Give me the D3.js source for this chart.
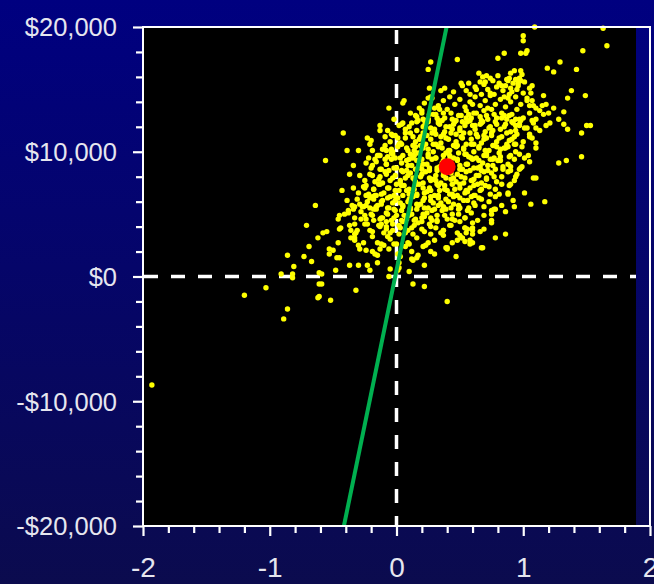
<!DOCTYPE html>
<html><head><meta charset="utf-8">
<script src="https://cdn.jsdelivr.net/npm/d3@7"></script>
<style>html,body{margin:0;padding:0;background:#000080;}svg{display:block;}</style>
</head><body>
<svg id="chart" width="654" height="584"></svg>
<script>
// x values in hundredths, y values in hundreds of dollars
const outerPoints = [
[-193,-87],[-120,-15],[-103,-9],[-91,2],[-89,-34],[-86,-26],[-86,17],[-82,2],[-82,-1],[-81,8],[-73,16],[-71,41],[-69,24],[-67,12],[-64,57],[-62,31],[-62,-17],[-61,3],[-61,-6],[-61,-16],[-59,2],[-59,-6],[-56,93],[-55,36],[-58,35],[-53,22],[-53,18],[-52,-19],[-50,21],
[-48,5],[-47,15],[-46,27],[-46,46],[-45,38],[-45,15],[-45,49],[-44,39],[-43,69],[-42,115],[-41,50],[-39,101],[-38,53],[-37,82],[-37,9],[-36,37],[-36,31],[-34,54],[-34,89],[-33,34],[-33,42],[-33,29],[-33,56],[-32,35],[-32,-11],[-30,101],[-30,25],[-30,9],[-29,58],[-29,22],[-28,46],[-26,56],[-25,49],[-25,71],[-23,111],[-23,42],[-23,9],[-22,95],[-21,37],[-21,63],[-21,5],[-21,106],[-20,109],[-19,20],[-17,18],[-17,65],[-17,94],[-16,56],[-15,27],[-15,11],[-13,121],[-13,117],[-13,22],[-13,97],[-12,60],[-12,42],[-11,47],[-10,25],[-8,40],[-8,101],[-7,32],[-7,117],[-6,135],[-6,0],[-5,35],[-5,6],[-4,99],[-3,113],[-2,126],[0,26],[1,18],[1,5],[2,11],[2,7],[4,122],[4,106],[5,139],[6,141],[10,4],[10,26],[12,14],[13,13],[13,-6],[16,15],[17,17],[17,125],[18,135],[20,131],[22,9],[22,-8],[22,125],[25,126],[25,27],[25,166],[25,143],[26,151],[27,144],[27,172],[27,20],[30,135],[31,130],[33,125],[39,23],[40,23],[40,-20],[47,16],[50,33],[48,29],[52,31],[54,28],[55,35],[54,39],[56,38],[58,29],[60,34],[60,37],[60,39],[60,27],[67,23],[68,23],[69,38],[75,50],[75,45],[75,43],[77,54],[78,31],[78,54],[81,66],[86,52],[86,34],[88,66],[89,73],[90,74],[90,85],[92,61],[93,56],[94,80],[95,82],[97,86],[101,67],[106,58],[108,79],[110,79],[117,60],[128,91],[134,93],[146,96],
[35,149],[51,155],[57,155],[65,163],[71,161],[70,156],[48,174],[80,175],[85,179],[98,179],[102,179],[103,181],[100,193],[100,189],[109,200],[163,199],[166,185],[147,181],[129,172],[119,167],[124,164],[142,166],[90,163],[93,165],[98,165],[99,162],[97,159],[94,158],[89,159],[88,157],[92,155],[96,155],[98,157],[90,151],[86,153],[105,151],[107,153],[106,147],[103,143],[107,141],[105,137],[110,135],[113,133],[115,137],[116,145],[118,138],[120,131],[124,135],[138,149],[149,145],[135,143],[132,132],[128,126],[132,122],[135,118],[153,121],[150,121],[146,115],[121,123],[110,103],[107,111],[105,114],[101,119],[97,122],[94,117],[107,125],[110,119],[101,95],[105,92],[97,98],[90,97],[86,103],[89,109],[94,106],[99,88],[90,88],[82,93]
];
const corePoints = [
[38,151],[45,148],[52,153],[58,146],[63,150],[69,154],[74,147],[79,152],[84,149],[89,146],[95,150],[100,147],[55,149],[67,146],[81,155],
[22,139],[28,143],[33,137],[37,141],[42,144],[46,138],[50,142],[54,136],[58,140],[62,144],[66,137],[70,141],[74,145],[78,138],[82,142],[86,136],[90,140],[94,144],[98,138],[103,141],[108,137],[60,138],[72,135],[88,143],
[11,131],[16,128],[20,133],[25,126],[29,130],[34,134],[38,127],[43,131],[47,125],[51,129],[55,133],[59,127],[63,131],[67,125],[71,129],[75,134],[79,127],[83,131],[87,126],[91,130],[95,134],[100,127],[105,131],[110,126],[116,130],[40,134],[57,130],[69,133],[85,129],[97,126],
[2,121],[7,118],[12,123],[16,117],[21,120],[25,124],[30,118],[34,122],[38,116],[42,120],[46,124],[50,117],[54,121],[58,125],[62,118],[66,122],[70,116],[74,120],[78,124],[82,118],[86,122],[90,116],[94,121],[98,125],[103,119],[108,123],[113,117],[118,121],[28,115],[44,118],[60,121],[76,117],[92,123],[36,125],[52,124],[68,124],
[-9,112],[-5,108],[-1,113],[3,107],[7,111],[11,115],[15,108],[19,112],[23,106],[27,110],[31,114],[35,107],[39,111],[43,115],[47,108],[51,112],[55,106],[59,110],[63,114],[67,107],[71,111],[75,115],[79,108],[83,112],[87,106],[91,110],[95,114],[100,108],[105,112],[110,107],[13,105],[29,106],[45,105],[61,106],[77,105],[93,106],[21,115],[37,114],[53,115],[69,113],
[-19,101],[-15,97],[-11,102],[-7,96],[-3,100],[1,104],[5,97],[9,101],[13,95],[17,99],[21,103],[25,96],[29,100],[33,104],[37,97],[41,101],[45,95],[49,99],[53,103],[57,96],[61,100],[65,104],[69,97],[73,101],[77,95],[81,99],[85,103],[89,96],[94,100],[99,104],[104,97],[-1,95],[15,104],[31,95],[47,104],[63,95],[79,104],[11,98],[39,99],[55,98],[71,98],
[-24,91],[-20,87],[-16,92],[-12,86],[-8,90],[-4,94],[0,87],[4,91],[8,85],[12,89],[16,93],[20,86],[24,90],[28,94],[32,87],[36,91],[40,85],[44,89],[48,93],[52,86],[56,90],[60,94],[64,87],[68,91],[72,85],[76,89],[80,93],[84,86],[88,90],[93,94],[98,87],[-6,85],[10,94],[26,85],[42,94],[58,85],[74,94],[18,89],[34,88],[50,89],[66,88],
[-29,81],[-25,77],[-21,82],[-17,76],[-13,80],[-9,84],[-5,77],[-1,81],[3,75],[7,79],[11,83],[15,76],[19,80],[23,84],[27,77],[31,81],[35,75],[39,79],[43,83],[47,76],[51,80],[55,84],[59,77],[63,81],[67,75],[71,79],[75,83],[79,76],[83,80],[88,84],[93,77],[-11,75],[5,84],[21,75],[37,84],[53,75],[69,84],[13,79],[29,78],[45,79],[61,78],
[-34,71],[-30,67],[-26,72],[-22,66],[-18,70],[-14,74],[-10,67],[-6,71],[-2,65],[2,69],[6,73],[10,66],[14,70],[18,74],[22,67],[26,71],[30,65],[34,69],[38,73],[42,66],[46,70],[50,74],[54,67],[58,71],[62,65],[66,69],[70,73],[74,66],[78,70],[83,74],[88,67],[-16,65],[0,74],[16,65],[32,74],[48,65],[64,74],[8,69],[24,68],[40,69],[56,68],
[-39,61],[-35,57],[-31,62],[-27,56],[-23,60],[-19,64],[-15,57],[-11,61],[-7,55],[-3,59],[1,63],[5,56],[9,60],[13,64],[17,57],[21,61],[25,55],[29,59],[33,63],[37,56],[41,60],[45,64],[49,57],[53,61],[57,55],[61,59],[65,63],[69,56],[73,60],[78,64],[83,57],[-21,55],[-5,64],[11,55],[27,64],[43,55],[59,64],[3,59],[19,58],[35,59],
[-38,51],[-33,47],[-28,52],[-24,46],[-20,50],[-16,54],[-12,47],[-8,51],[-4,45],[0,49],[4,53],[8,46],[12,50],[16,54],[20,47],[24,51],[28,45],[32,49],[36,53],[40,46],[44,50],[49,54],[54,47],[59,51],[64,45],[69,49],[75,53],[-18,45],[-2,54],[14,45],[30,54],[46,45],[6,49],[22,48],
[-37,41],[-31,37],[-25,42],[-19,36],[-13,40],[-8,44],[-3,37],[2,41],[7,35],[12,39],[17,43],[22,36],[27,40],[32,44],[37,37],[42,41],[48,35],[54,39],[60,43],[66,36],[-10,35],[5,44],[20,44],[35,35],[50,44],
[-33,31],[-26,27],[-19,32],[-12,26],[-5,30],[2,34],[9,27],[16,31],[23,25],[30,29],[37,33],[44,27],[51,31],[58,26],[-2,26],[13,34],[27,34],
[-24,21],[-15,17],[-6,22],[3,16],[12,20],[21,24],[30,18],[40,22],[7,24]
];
const densePoints = [
[62,152],[66,156],[72,150],[76,157],[83,153],[87,158],[77,146],[91,148],[96,153],[101,156],[85,144],[80,161],[74,159],[68,160],
[15,129],[21,126],[26,130],[32,127],[37,131],[44,126],[49,129],[55,127],[61,131],[66,128],[72,126],[77,130],[83,127],[89,129],[94,126],
[5,123],[10,120],[16,124],[22,121],[27,119],[33,123],[39,120],[45,122],[50,119],[56,124],[62,121],[67,123],[73,119],[79,122],[85,120],[91,124],[97,121],
[-4,114],[1,111],[7,115],[13,112],[18,110],[24,113],[30,116],[35,112],[41,110],[47,114],[52,111],[58,115],[64,112],[69,110],[75,113],[81,111],[87,115],[93,112],
[-9,105],[-4,102],[2,106],[8,103],[14,101],[19,105],[25,102],[31,106],[36,103],[42,101],[48,105],[53,102],[59,106],[65,103],[70,101],[76,105],[82,102],[88,104],
[-14,97],[-9,94],[-3,98],[3,95],[8,93],[14,97],[20,94],[25,98],[31,95],[37,93],[42,97],[48,94],[54,98],[59,95],[65,93],[71,97],[76,94],[82,96],
[-19,89],[-13,86],[-8,90],[-2,87],[4,85],[9,89],[15,86],[21,90],[26,87],[32,85],[38,89],[50,86],[55,90],[61,87],[67,85],[72,89],[78,86],[84,88],
[-19,81],[-14,78],[-8,82],[-3,79],[3,77],[9,81],[14,78],[20,82],[26,79],[31,77],[37,81],[43,78],[48,82],[54,79],[60,77],[65,81],[71,78],[77,80],
[-24,73],[-18,70],[-13,74],[-7,71],[-1,69],[4,73],[10,70],[16,74],[21,71],[27,69],[33,73],[38,70],[44,74],[50,71],[55,69],[61,73],[67,70],[73,72],
[-24,65],[-18,62],[-12,66],[-7,63],[-1,61],[5,65],[10,62],[16,66],[22,63],[27,61],[33,65],[39,62],[44,66],[50,63],[56,61],[61,65],[67,62],
[-24,57],[-18,54],[-12,58],[-6,55],[-1,53],[5,57],[11,54],[16,58],[22,55],[28,53],[33,57],[39,54],[45,58],[50,55],[56,53],[62,57],
[-19,49],[-13,46],[-7,50],[-2,47],[4,45],[10,49],[15,46],[21,50],[27,47],[32,45],[38,49],[44,46],[49,50],[54,47],
[-14,41],[-8,38],[-3,42],[3,39],[9,37],[14,41],[20,38],[26,42],[31,39],[37,37],[43,41]
];
const meanPoint = [40, 88];
const lineX = [-0.415, 0.395];
const lineY = [-20000, 20000];
const xMajorTicks = [-2, -1, 0, 1, 2];
const yMajorTicks = [-20000, -10000, 0, 10000, 20000];

(function () {
const svg = d3.select("#chart");
const W = 654, H = 584;
const defs = svg.append("defs");
const grad = defs.append("linearGradient").attr("id","bg").attr("x1",0).attr("y1",0).attr("x2",0).attr("y2",1);
grad.append("stop").attr("offset","0%").attr("stop-color","#000080");
grad.append("stop").attr("offset","100%").attr("stop-color","#0b0b4e");
svg.append("rect").attr("width",W).attr("height",H).attr("fill","url(#bg)");

const pL = 143, pR = 650, pT = 27, pB = 526;
const x = d3.scaleLinear().domain([-2, 2]).range([pL, pR]);
const y = d3.scaleLinear().domain([-20000, 20000]).range([pB, pT]);

const plotRight = pR - 14;
svg.append("rect").attr("x", pL).attr("y", pT).attr("width", plotRight - pL).attr("height", pB - pT).attr("fill", "#000");

svg.append("line").attr("x1", pL + 1).attr("x2", plotRight).attr("y1", y(0)).attr("y2", y(0))
  .attr("stroke", "#fff").attr("stroke-width", 3.5).attr("stroke-dasharray", "14,13");
svg.append("line").attr("x1", x(0)).attr("x2", x(0)).attr("y1", pT + 3).attr("y2", pB)
  .attr("stroke", "#fff").attr("stroke-width", 3.5).attr("stroke-dasharray", "14,13");

const allPts = outerPoints.concat(corePoints, densePoints);
svg.append("g").selectAll("circle").data(allPts).join("circle")
  .attr("cx", d => x(d[0] / 100)).attr("cy", d => y(d[1] * 100)).attr("r", 2.7).attr("fill", "#ffff00");

svg.append("line").attr("x1", x(lineX[0])).attr("y1", y(lineY[0])).attr("x2", x(lineX[1])).attr("y2", y(lineY[1]))
  .attr("stroke", "#00b050").attr("stroke-width", 4);

svg.append("circle").attr("cx", x(meanPoint[0] / 100)).attr("cy", y(meanPoint[1] * 100)).attr("r", 8.5).attr("fill", "#ff0000");

svg.append("rect").attr("x", pL).attr("y", pT).attr("width", pR - pL).attr("height", pB - pT)
  .attr("fill", "none").attr("stroke", "#fff").attr("stroke-width", 2);

const font = "'Liberation Sans', Arial, sans-serif";
const labelColor = "#e6e6ef";
const yFmt = d => (d < 0 ? "-" : "") + "$" + d3.format(",")(Math.abs(d));

const yMajor = svg.append("g").attr("transform", `translate(${pL},0)`)
  .call(d3.axisLeft(y).tickValues(yMajorTicks).tickSize(10).tickPadding(16).tickFormat(yFmt));
const yMinor = svg.append("g").attr("transform", `translate(${pL},0)`)
  .call(d3.axisLeft(y).tickValues(d3.range(-20000, 20001, 2000).filter(v => v % 10000 !== 0)).tickSize(7).tickFormat(""));
const xMajor = svg.append("g").attr("transform", `translate(0,${pB})`)
  .call(d3.axisBottom(x).tickValues(xMajorTicks).tickSize(10).tickFormat(d => String(d)));
const xMinorVals = d3.range(-20, 21, 2).filter(v => v % 10 !== 0).map(v => v / 10);
const xMinor = svg.append("g").attr("transform", `translate(0,${pB})`)
  .call(d3.axisBottom(x).tickValues(xMinorVals).tickSize(7).tickFormat(""));

[yMajor, yMinor, xMajor, xMinor].forEach(g => {
  g.select(".domain").remove();
  g.selectAll(".tick line").attr("stroke", "#fff").attr("stroke-width", 2.2);
});
yMajor.selectAll(".tick text").attr("fill", labelColor).attr("font-family", font).attr("font-size", 25.5).attr("dy", "0.35em");
xMajor.selectAll(".tick text").attr("fill", labelColor).attr("font-family", font).attr("font-size", 28).attr("dy", "0").attr("y", 51);
})();
</script>
</body></html>
